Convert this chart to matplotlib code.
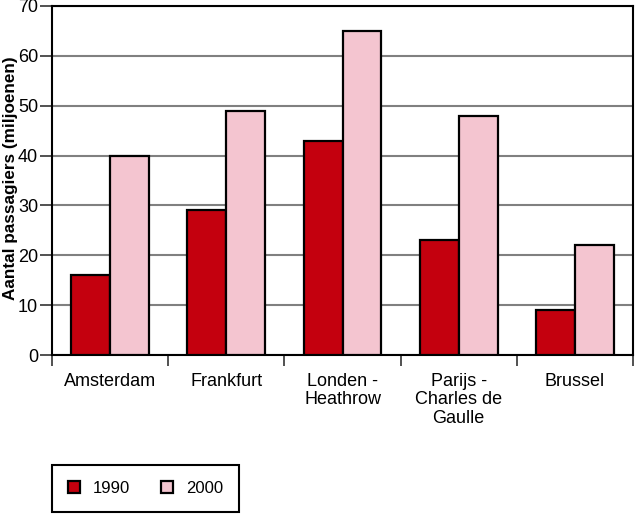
import matplotlib.pyplot as plt
import numpy as np

plt.rcParams['font.family'] = ['Liberation Sans', 'DejaVu Sans']

luchthavens = ['Amsterdam', 'Frankfurt', 'Londen -\nHeathrow', 'Parijs -\nCharles de\nGaulle', 'Brussel']
pass_1990 = [16, 29, 43, 23, 9]
pass_2000 = [40, 49, 65, 48, 22]
jaren = ['1990', '2000']

rood = '#c4000e'
roze = '#f4c5d0'

fig = plt.figure(figsize=(6.35, 5.14), dpi=100)
ax = fig.add_axes([52/635, 1 - 355/514, 581/635, 349/514])

x = np.arange(len(luchthavens))
w = 0.335
ax.bar(x - w/2, pass_1990, w, color=rood, edgecolor='black', linewidth=1.6, label=jaren[0], zorder=3)
ax.bar(x + w/2, pass_2000, w, color=roze, edgecolor='black', linewidth=1.6, label=jaren[1], zorder=3)

ax.set_xlim(-0.5, len(luchthavens) - 0.5)
ax.set_ylim(0, 70)
ax.set_yticks(range(0, 71, 10))
ax.yaxis.grid(True, color='#808080', linewidth=1.5, zorder=0)
ax.set_axisbelow(True)

# categorie-labels tussen de streepjes
ax.set_xticks(np.arange(-0.5, len(luchthavens), 1))
ax.set_xticklabels([])
ax.set_xticks(x, minor=True)
ax.set_xticklabels(luchthavens, minor=True, fontsize=13, linespacing=1.1)
ax.tick_params(axis='x', which='minor', length=0, pad=13)
ax.tick_params(axis='x', which='major', length=8, width=1.2, color='#333333')
ax.tick_params(axis='y', length=9, width=1.2, labelsize=13, pad=1, color='#333333')

for s in ax.spines.values():
    s.set_linewidth(1.5)
    s.set_color('black')

ax.set_ylabel('Aantal passagiers (miljoenen)', fontsize=12.3, fontweight='bold', va='center')
ax.yaxis.set_label_coords(-0.071, 0.507)

leg = fig.legend(loc='upper left', bbox_to_anchor=(52/635, 1 - 465/514), ncol=2,
                 fontsize=12, frameon=True, fancybox=False, edgecolor='black',
                 handlelength=0.72, handleheight=0.72, handletextpad=0.78,
                 columnspacing=1.85, borderpad=0.95, borderaxespad=0, framealpha=1)
leg.get_frame().set_linewidth(1.5)

fig.savefig('out.png', dpi=100)
